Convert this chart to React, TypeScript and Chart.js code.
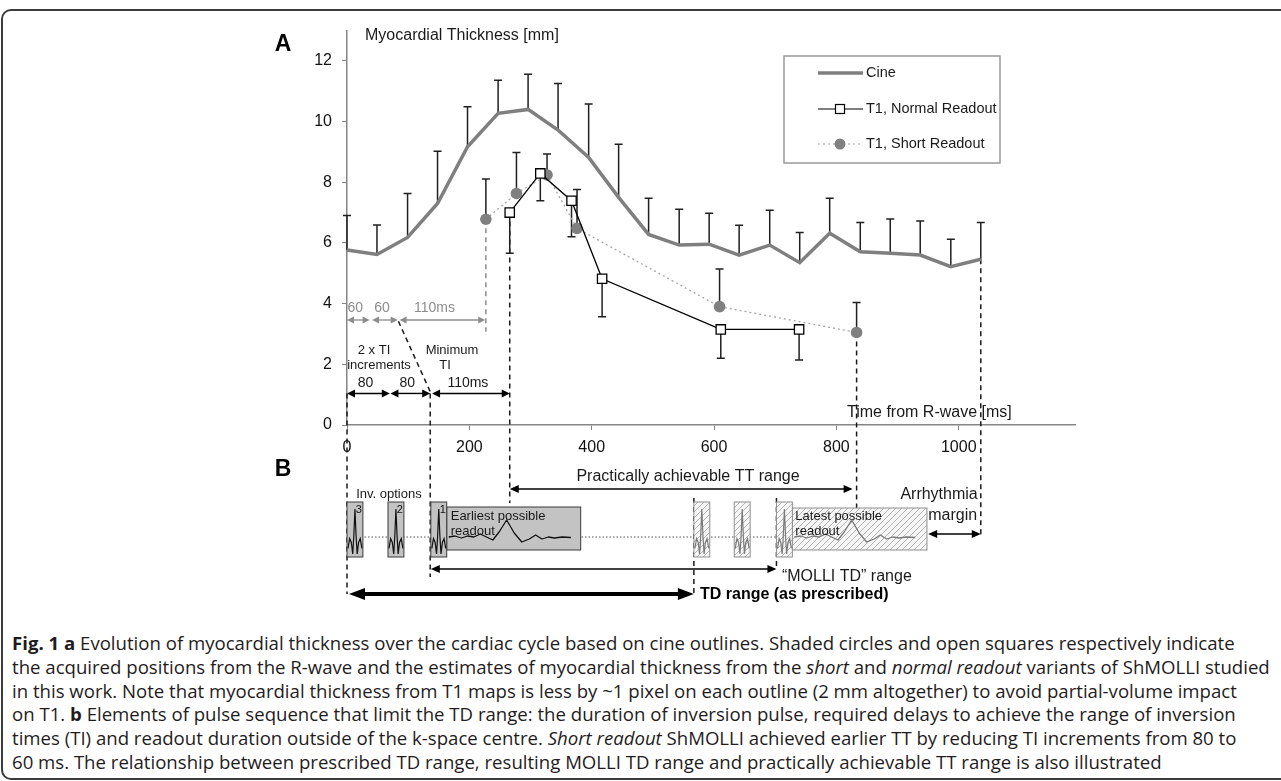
import React, { useEffect, useRef } from "react";
import { Chart, registerables } from "chart.js";

Chart.register(...registerables);

// ---------------- data ----------------
const cineTimes = [0, 49, 99, 148, 197, 247, 296, 345, 395, 444, 493, 543, 592, 641, 691, 740, 789, 839, 888, 937, 987, 1036];
const cineValues = [5.77, 5.62, 6.18, 7.3, 9.17, 10.27, 10.4, 9.72, 8.82, 7.5, 6.28, 5.93, 5.96, 5.6, 5.93, 5.35, 6.32, 5.71, 5.66, 5.6, 5.22, 5.46];
const cineUpper = [6.9, 6.59, 7.63, 9.02, 10.49, 11.36, 11.56, 11.25, 10.58, 9.25, 7.47, 7.11, 6.98, 6.58, 7.08, 6.34, 7.47, 6.67, 6.79, 6.72, 6.12, 6.67];

const normalTimes = [266, 316, 367, 417, 611, 739];
const normalValues = [7.0, 8.29, 7.39, 4.82, 3.15, 3.15];
const normalLower = [5.66, 7.39, 6.2, 3.57, 2.2, 2.14];

const shortTimes = [227, 277, 327, 376, 609, 833];
const shortValues = [6.78, 7.63, 8.24, 6.48, 3.9, 3.05];
const shortUpper = [8.11, 8.98, 8.93, 7.76, 5.14, 4.04];

const seriesLabels = ["Cine", "T1, Normal Readout", "T1, Short Readout"];
const xTickValues = [0, 200, 400, 600, 800, 1000];
const yTickValues = [0, 2, 4, 6, 8, 10, 12];

// panel A timing annotations (ms)
const grayIntervals = [[0, 37], [41, 83], [86, 226]];
const grayIntervalLabels = ["60", "60", "110ms"];
const blackIntervals = [[0, 70], [71, 136], [139, 266]];
const blackIntervalLabels = ["80", "80", "110ms"];

// panel B timing elements (ms)
const earlyPulses = [0, 67, 137];
const earlyPulseLabels = ["3", "2", "1"];
const latePulses = [567, 633, 702];
const pulseWidth = 26;
const earliestReadout = [163, 382];
const latestReadout = [728, 948];
const practicalRange = [266, 833];
const molliRange = [137, 702];
const prescribedRange = [0, 567];
const arrhythmiaMargin = [950, 1036];

// ---------------- layout / style ----------------
const FONT = '"Liberation Sans", Arial, Helvetica, sans-serif';
const CANVAS_W = 1281;
const CANVAS_H = 615;
const AXIS_RIGHT = 1075;
const AXIS_LEFT = 347;
const AXIS_TOP = 30.5;
const AXIS_BOTTOM = 425;
const GRAY = "#858585";
const INK = "#1a1a1a";

// vertical pixel rows of panel B
const B = {
  label: 470,
  practicalText: 477,
  practicalArrow: 489,
  invText: 494,
  pulseTop: 502,
  pulseBottom: 557,
  readTop: 507,
  readBottom: 550,
  baseline: 537,
  molliArrow: 569,
  molliText: 577,
  tdArrow: 594,
  tdText: 595,
  arrText: 495,
  marginText: 516,
  marginArrow: 534,
};

const ecgShape = [
  [0, 0.86], [0.12, 0.66], [0.24, 0.74], [0.34, 0.98], [0.42, 0.6], [0.5, 0.04], [0.58, 0.6],
  [0.66, 0.98], [0.76, 0.74], [0.88, 0.66], [1, 0.86],
];
const readoutShape = [
  [0, 0], [0.05, -1], [0.1, 1], [0.15, -1], [0.2, 0], [0.25, -3], [0.3, 0], [0.35, 3],
  [0.4, -5], [0.46, -17], [0.52, -4], [0.58, 5], [0.64, 2], [0.69, -2], [0.74, 2],
  [0.79, 0], [0.84, 1], [0.9, 0], [0.97, 0.5],
];

function arrow(ctx, x1, x2, y, color, lw, hl, hw, left = true, right = true) {
  ctx.save();
  ctx.strokeStyle = color;
  ctx.fillStyle = color;
  ctx.lineWidth = lw;
  ctx.setLineDash([]);
  ctx.beginPath();
  ctx.moveTo(x1 + (left ? hl * 0.7 : 0), y);
  ctx.lineTo(x2 - (right ? hl * 0.7 : 0), y);
  ctx.stroke();
  if (left) {
    ctx.beginPath();
    ctx.moveTo(x1, y);
    ctx.lineTo(x1 + hl, y - hw / 2);
    ctx.lineTo(x1 + hl, y + hw / 2);
    ctx.closePath();
    ctx.fill();
  }
  if (right) {
    ctx.beginPath();
    ctx.moveTo(x2, y);
    ctx.lineTo(x2 - hl, y - hw / 2);
    ctx.lineTo(x2 - hl, y + hw / 2);
    ctx.closePath();
    ctx.fill();
  }
  ctx.restore();
}

function dashed(ctx, x1, y1, x2, y2, color) {
  ctx.save();
  ctx.strokeStyle = color;
  ctx.lineWidth = 1.5;
  ctx.setLineDash([5, 4]);
  ctx.beginPath();
  ctx.moveTo(x1, y1);
  ctx.lineTo(x2, y2);
  ctx.stroke();
  ctx.restore();
}

function text(ctx, s, x, y, size, color = INK, align = "left", weight = "normal") {
  ctx.save();
  ctx.font = `${weight} ${size}px ${FONT}`;
  ctx.fillStyle = color;
  ctx.textAlign = align;
  ctx.textBaseline = "middle";
  ctx.fillText(s, x, y);
  ctx.restore();
}

function errorBar(ctx, x, y1, y2) {
  ctx.save();
  ctx.strokeStyle = "#202020";
  ctx.lineWidth = 1.5;
  ctx.setLineDash([]);
  ctx.beginPath();
  ctx.moveTo(x, y1);
  ctx.lineTo(x, y2);
  ctx.moveTo(x - 4, y2);
  ctx.lineTo(x + 4, y2);
  ctx.stroke();
  ctx.restore();
}

function hatchPattern(ctx) {
  const c = document.createElement("canvas");
  c.width = 6;
  c.height = 6;
  const g = c.getContext("2d");
  g.fillStyle = "#f6f6f6";
  g.fillRect(0, 0, 6, 6);
  g.strokeStyle = "#b5b5b5";
  g.lineWidth = 1;
  g.beginPath();
  g.moveTo(-1, 7);
  g.lineTo(7, -1);
  g.moveTo(-1, 1);
  g.lineTo(1, -1);
  g.moveTo(5, 7);
  g.lineTo(7, 5);
  g.stroke();
  return ctx.createPattern(c, "repeat");
}

function drawEcg(ctx, x, y, w, h, color) {
  ctx.save();
  ctx.strokeStyle = color;
  ctx.lineWidth = 1.2;
  ctx.setLineDash([]);
  ctx.beginPath();
  ecgShape.forEach(([u, v], i) => {
    const px = x + 1 + u * (w - 2);
    const py = y + v * h;
    if (i === 0) ctx.moveTo(px, py);
    else ctx.lineTo(px, py);
  });
  ctx.stroke();
  ctx.restore();
}

function drawReadout(ctx, x, w, color) {
  ctx.save();
  ctx.strokeStyle = color;
  ctx.lineWidth = 1.3;
  ctx.lineJoin = "round";
  ctx.beginPath();
  readoutShape.forEach(([u, dy], i) => {
    const px = x + u * w;
    const py = B.baseline + dy;
    if (i === 0) ctx.moveTo(px, py);
    else ctx.lineTo(px, py);
  });
  ctx.stroke();
  ctx.restore();
}

const figurePlugin = {
  id: "figure",
  beforeDatasetsDraw(chart) {
    const ctx = chart.ctx;
    const xs = (v) => chart.scales.x.getPixelForValue(v);
    const ys = (v) => chart.scales.y.getPixelForValue(v);

    // dashed guide lines
    dashed(ctx, xs(shortTimes[0]), ys(shortValues[0]), xs(shortTimes[0]), ys(3.07), "#8c8c8c");
    dashed(ctx, xs(normalTimes[0]), ys(normalValues[0]), xs(normalTimes[0]), B.practicalArrow + 14, INK);
    dashed(ctx, xs(0), ys(1.04), xs(0), B.tdArrow, INK);
    dashed(ctx, xs(blackIntervals[1][1]), ys(1.04), xs(blackIntervals[1][1]), B.molliArrow + 8, INK);
    dashed(ctx, xs(84), ys(3.42), xs(blackIntervals[1][1]), ys(1.1), INK);
    const lastS = shortTimes.length - 1;
    dashed(ctx, xs(shortTimes[lastS]), ys(shortValues[lastS]), xs(shortTimes[lastS]), B.readTop + 3, INK);
    const lastC = cineTimes.length - 1;
    dashed(ctx, xs(cineTimes[lastC]), ys(cineValues[lastC]), xs(cineTimes[lastC]), B.marginArrow + 3, INK);
    dashed(ctx, xs(prescribedRange[1]), B.pulseTop - 4, xs(prescribedRange[1]), B.tdArrow + 3, INK);
    dashed(ctx, xs(molliRange[1]), B.pulseTop - 4, xs(molliRange[1]), B.molliArrow + 1, INK);

    // error bars
    cineTimes.forEach((t, i) => errorBar(ctx, xs(t), ys(cineValues[i]), ys(cineUpper[i])));
    normalTimes.forEach((t, i) => errorBar(ctx, xs(t), ys(normalValues[i]), ys(normalLower[i])));
    shortTimes.forEach((t, i) => errorBar(ctx, xs(t), ys(shortValues[i]), ys(shortUpper[i])));
  },
  afterDraw(chart) {
    const ctx = chart.ctx;
    const xs = (v) => chart.scales.x.getPixelForValue(v);
    const ys = (v) => chart.scales.y.getPixelForValue(v);

    // panel labels and axis titles
    text(ctx, "A", 283, 45, 23, "#000", "center", "bold");
    text(ctx, "B", 283, B.label, 23, "#000", "center", "bold");
    text(ctx, "Myocardial Thickness [mm]", 365, 36, 16);
    text(ctx, "Time from R-wave [ms]", 847, 413, 16);

    // legend
    const lx = 784, ly = 56, lw = 216, lh = 107;
    ctx.save();
    ctx.fillStyle = "#fff";
    ctx.fillRect(lx, ly, lw, lh);
    ctx.strokeStyle = "#8a8a8a";
    ctx.lineWidth = 1.3;
    ctx.strokeRect(lx, ly, lw, lh);
    ctx.restore();
    const rows = [73, 109, 144];
    ctx.save();
    ctx.strokeStyle = "#7f7f7f";
    ctx.lineWidth = 3.5;
    ctx.beginPath();
    ctx.moveTo(818, rows[0]);
    ctx.lineTo(863, rows[0]);
    ctx.stroke();
    ctx.strokeStyle = "#000";
    ctx.lineWidth = 1.2;
    ctx.beginPath();
    ctx.moveTo(818, rows[1]);
    ctx.lineTo(863, rows[1]);
    ctx.stroke();
    ctx.fillStyle = "#fff";
    ctx.fillRect(835.5, rows[1] - 4.5, 9, 9);
    ctx.strokeRect(835.5, rows[1] - 4.5, 9, 9);
    ctx.strokeStyle = "#a0a0a0";
    ctx.setLineDash([2, 3]);
    ctx.beginPath();
    ctx.moveTo(818, rows[2]);
    ctx.lineTo(863, rows[2]);
    ctx.stroke();
    ctx.setLineDash([]);
    ctx.fillStyle = "#808080";
    ctx.beginPath();
    ctx.arc(840, rows[2], 5.5, 0, Math.PI * 2);
    ctx.fill();
    ctx.restore();
    seriesLabels.forEach((s, i) => text(ctx, s, 866, rows[i], 14.5));

    // panel A interval arrows
    grayIntervals.forEach(([a, b], i) => {
      arrow(ctx, xs(a), xs(b), ys(3.46), "#8c8c8c", 1.3, 7, 7);
      text(ctx, grayIntervalLabels[i], (xs(a) + xs(b)) / 2 - (i === 2 ? 8 : 3), ys(3.86), 14, "#8c8c8c", "center");
    });
    blackIntervals.forEach(([a, b], i) => {
      arrow(ctx, xs(a), xs(b), ys(1.04), "#000", 1.4, 8, 8);
      text(ctx, blackIntervalLabels[i], (xs(a) + xs(b)) / 2 - 3, ys(1.38), 14, INK, "center");
    });
    text(ctx, "2 x TI", 374, ys(2.47), 13, INK, "center");
    text(ctx, "increments", 379, ys(1.95), 13, INK, "center");
    text(ctx, "Minimum", 452, ys(2.47), 13, INK, "center");
    text(ctx, "TI", 445, ys(1.95), 13, INK, "center");

    // ---------------- panel B ----------------
    // dotted baseline
    ctx.save();
    ctx.strokeStyle = "#555";
    ctx.lineWidth = 1;
    ctx.setLineDash([1.5, 2]);
    ctx.beginPath();
    ctx.moveTo(xs(earlyPulses[0]), B.baseline);
    ctx.lineTo(xs(latePulses[2]), B.baseline);
    ctx.stroke();
    ctx.restore();

    // early pulses + earliest readout
    ctx.save();
    ctx.fillStyle = "#c3c3c3";
    ctx.strokeStyle = "#3a3a3a";
    ctx.lineWidth = 1;
    const rx0 = xs(earliestReadout[0]);
    const rx1 = xs(earliestReadout[1]);
    ctx.fillRect(rx0, B.readTop, rx1 - rx0, B.readBottom - B.readTop);
    ctx.strokeRect(rx0, B.readTop, rx1 - rx0, B.readBottom - B.readTop);
    earlyPulses.forEach((t, i) => {
      const x0 = xs(t);
      const w = xs(t + pulseWidth) - x0;
      ctx.fillStyle = "#c3c3c3";
      ctx.fillRect(x0, B.pulseTop, w, B.pulseBottom - B.pulseTop);
      ctx.strokeRect(x0, B.pulseTop, w, B.pulseBottom - B.pulseTop);
      drawEcg(ctx, x0, B.pulseTop + 5, w, B.pulseBottom - B.pulseTop - 7, "#111");
      text(ctx, earlyPulseLabels[i], x0 + w - 4, B.pulseTop + 8, 11, "#111", "center");
    });
    ctx.restore();
    drawReadout(ctx, rx0 + 2, rx1 - rx0 - 8, "#111");
    text(ctx, "Earliest possible", rx0 + 4, B.readTop + 9, 13);
    text(ctx, "readout", rx0 + 4, B.readTop + 24, 13);
    text(ctx, "Inv. options", xs(15), B.invText, 13);

    // late pulses + latest readout (hatched)
    const pat = hatchPattern(ctx);
    ctx.save();
    ctx.strokeStyle = "#8f8f8f";
    ctx.lineWidth = 1;
    const lx0 = xs(latestReadout[0]);
    const lx1 = xs(latestReadout[1]);
    ctx.fillStyle = pat;
    ctx.fillRect(lx0, B.readTop + 1, lx1 - lx0, B.readBottom - B.readTop - 1);
    ctx.strokeRect(lx0, B.readTop + 1, lx1 - lx0, B.readBottom - B.readTop - 1);
    latePulses.forEach((t) => {
      const x0 = xs(t);
      const w = xs(t + pulseWidth) - x0;
      ctx.fillStyle = pat;
      ctx.fillRect(x0, B.pulseTop, w, B.pulseBottom - B.pulseTop);
      ctx.strokeRect(x0, B.pulseTop, w, B.pulseBottom - B.pulseTop);
      drawEcg(ctx, x0, B.pulseTop + 5, w, B.pulseBottom - B.pulseTop - 7, "#7a7a7a");
    });
    ctx.restore();
    drawReadout(ctx, lx0 + 2, lx1 - lx0 - 10, "#7a7a7a");
    text(ctx, "Latest possible", lx0 + 3, B.readTop + 9, 13);
    text(ctx, "readout", lx0 + 3, B.readTop + 24, 13);

    // range arrows
    arrow(ctx, xs(practicalRange[0]), xs(practicalRange[1]) - 4, B.practicalArrow, "#000", 1.3, 9, 8);
    text(ctx, "Practically achievable TT range", xs(375), B.practicalText, 16);
    arrow(ctx, xs(molliRange[0]), xs(molliRange[1]), B.molliArrow, "#000", 1.3, 9, 8);
    text(ctx, "\u201CMOLLI TD\u201D range", xs(711), B.molliText, 16);
    arrow(ctx, xs(prescribedRange[0]) + 2, xs(prescribedRange[1]), B.tdArrow, "#000", 4, 16, 12);
    text(ctx, "TD range (as prescribed)", xs(577), B.tdText, 16, "#000", "left", "bold");
    arrow(ctx, xs(arrhythmiaMargin[0]), xs(arrhythmiaMargin[1]), B.marginArrow, "#000", 1.5, 9, 8);
    text(ctx, "Arrhythmia", xs(1031), B.arrText, 16, INK, "right");
    text(ctx, "margin", xs(1030), B.marginText, 16, INK, "right");
  },
};

function FigureChart() {
  const ref = useRef(null);
  useEffect(() => {
    const canvas = ref.current;
    if (!canvas) return;
    const chart = new Chart(canvas, {
      type: "line",
      data: {
        datasets: [
          {
            label: seriesLabels[0],
            data: cineTimes.map((t, i) => ({ x: t, y: cineValues[i] })),
            borderColor: "#7f7f7f",
            borderWidth: 3.5,
            pointRadius: 0,
            clip: false,
            order: 3,
          },
          {
            label: seriesLabels[2],
            data: shortTimes.map((t, i) => ({ x: t, y: shortValues[i] })),
            borderColor: "#a6a6a6",
            borderWidth: 1.3,
            borderDash: [2, 3],
            pointRadius: 5.8,
            pointStyle: "circle",
            pointBackgroundColor: "#808080",
            pointBorderColor: "#808080",
            pointBorderWidth: 0,
            clip: false,
            order: 2,
          },
          {
            label: seriesLabels[1],
            data: normalTimes.map((t, i) => ({ x: t, y: normalValues[i] })),
            borderColor: "#000",
            borderWidth: 1.3,
            pointStyle: "rect",
            pointRadius: 6.6,
            pointBackgroundColor: "#fff",
            pointBorderColor: "#000",
            pointBorderWidth: 1.3,
            clip: false,
            order: 1,
          },
        ],
      },
      options: {
        animation: false,
        responsive: false,
        maintainAspectRatio: false,
        devicePixelRatio: 1,
        events: [],
        layout: {
          padding: { left: 0, right: CANVAS_W - AXIS_RIGHT, top: AXIS_TOP, bottom: 0 },
        },
        plugins: { legend: { display: false }, tooltip: { enabled: false }, title: { display: false } },
        scales: {
          x: {
            type: "linear",
            min: 0,
            max: 1190,
            afterBuildTicks: (s) => {
              s.ticks = xTickValues.map((v) => ({ value: v }));
            },
            afterFit: (s) => {
              s.height = CANVAS_H - AXIS_BOTTOM;
            },
            grid: { display: true, drawOnChartArea: false, drawTicks: true, tickLength: 5, color: GRAY, lineWidth: 1 },
            border: { display: true, color: GRAY, width: 1.5 },
            ticks: {
              font: { family: FONT, size: 16 },
              color: "#111",
              padding: 8,
              maxRotation: 0,
              autoSkip: false,
              callback: (v) => String(v),
            },
          },
          y: {
            type: "linear",
            min: 0,
            max: 13,
            afterBuildTicks: (s) => {
              s.ticks = yTickValues.map((v) => ({ value: v }));
            },
            afterFit: (s) => {
              s.width = AXIS_LEFT;
            },
            grid: { display: true, drawOnChartArea: false, drawTicks: true, tickLength: 5, color: GRAY, lineWidth: 1 },
            border: { display: true, color: GRAY, width: 1.5 },
            ticks: { font: { family: FONT, size: 16 }, color: "#111", padding: 10, autoSkip: false, callback: (v) => String(v) },
          },
        },
      },
      plugins: [figurePlugin],
    });
    return () => chart.destroy();
  }, []);
  return <canvas ref={ref} width={CANVAS_W} height={CANVAS_H} style={{ position: "absolute", left: 0, top: 0, width: CANVAS_W, height: CANVAS_H }} />;
}

const captionStyle = {
  position: "absolute",
  left: 12,
  top: 631,
  fontFamily: '"Open Sans", "Noto Sans", sans-serif',
  fontSize: 18.6,
  lineHeight: "23.8px",
  color: "#1f1c1d",
  whiteSpace: "nowrap",
};

export default function App() {
  return (
    <div style={{ position: "absolute", left: 0, top: 0, width: 1281, height: 781, overflow: "hidden", background: "#fff" }}>
      <div
        style={{
          position: "absolute",
          left: 1,
          top: 9,
          width: 1320,
          height: 771,
          border: "2px solid #3c3c3c",
          borderRadius: 10,
          boxSizing: "border-box",
        }}
      />
      <FigureChart />
      <div style={captionStyle}>
        <div>
          <b>Fig. 1 a</b> Evolution of myocardial thickness over the cardiac cycle based on cine outlines. Shaded circles and open squares respectively indicate
        </div>
        <div>
          the acquired positions from the R-wave and the estimates of myocardial thickness from the <i>short</i> and <i>normal readout</i> variants of ShMOLLI studied
        </div>
        <div>
          in this work. Note that myocardial thickness from T1 maps is less by ~1 pixel on each outline (2 mm altogether) to avoid partial-volume impact
        </div>
        <div>
          on T1. <b>b</b> Elements of pulse sequence that limit the TD range: the duration of inversion pulse, required delays to achieve the range of inversion
        </div>
        <div>
          times (TI) and readout duration outside of the k-space centre. <i>Short readout</i> ShMOLLI achieved earlier TT by reducing TI increments from 80 to
        </div>
        <div>
          60 ms. The relationship between prescribed TD range, resulting MOLLI TD range and practically achievable TT range is also illustrated
        </div>
      </div>
    </div>
  );
}
